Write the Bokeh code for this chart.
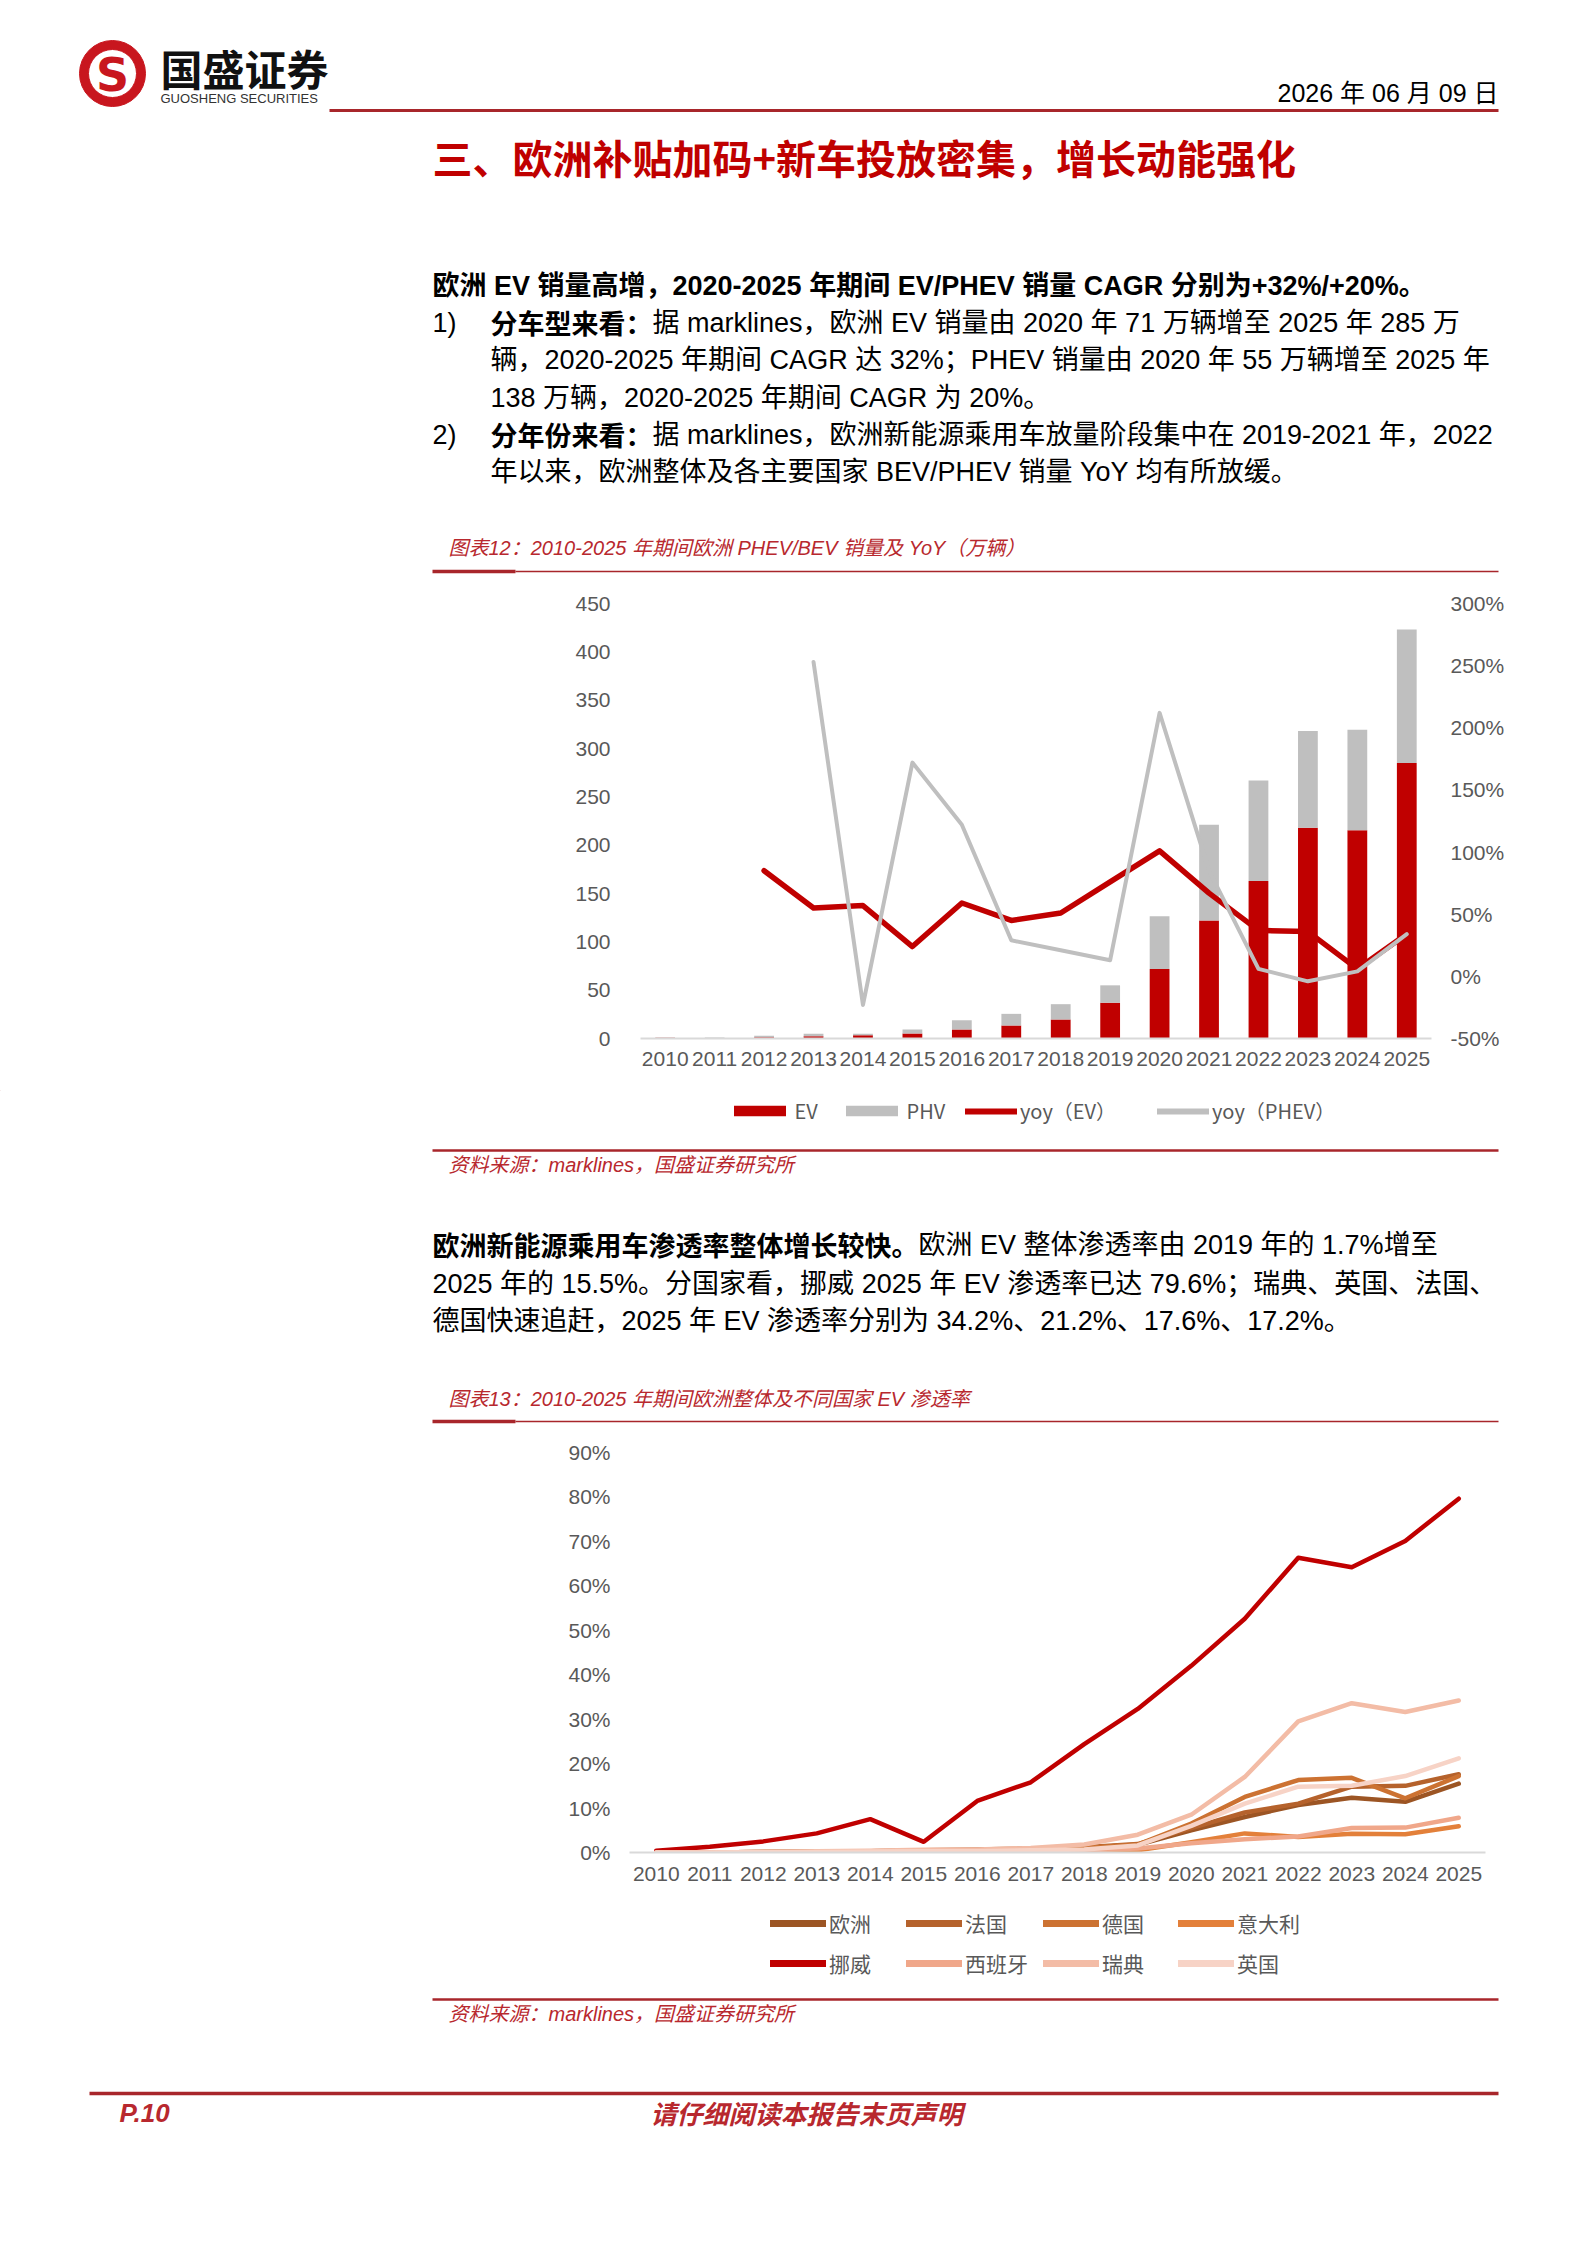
from bokeh.plotting import figure
from bokeh.models import (ColumnDataSource, FactorRange, Range1d, LinearAxis, FixedTicker,
                          PrintfTickFormatter, Legend, LegendItem)
from bokeh.layouts import column
from bokeh.embed import file_html
from bokeh.resources import INLINE
from bokeh.core.properties import value

# ---------------- chart data ----------------
years = [str(y) for y in range(2010, 2026)]

# Figure 12: sales (10k units)
ev_sales = [0.7, 0.5, 1.4, 2.4, 3.4, 5.2, 9.3, 13.4, 19.7, 37.0, 72.0, 122.0, 163.0, 218.0, 215.5, 285.0]
phv_sales = [0.3, 0.6, 1.4, 2.4, 1.4, 4.1, 9.7, 12.1, 15.8, 18.0, 54.5, 99.0, 104.0, 100.0, 104.0, 138.0]
ev_yoy_years = years[2:]
ev_yoy = [85, 55, 57, 24, 59, 45, 51, 76, 101, 67, 37, 36, 6, 34]
phev_yoy_years = years[3:]
phev_yoy = [253, -23, 172, 122, 29, 21, 13, 212, 85, 6, -4, 4, 34]
sales_ticks = [0, 50, 100, 150, 200, 250, 300, 350, 400, 450]
yoy_ticks = [-50, 0, 50, 100, 150, 200, 250, 300]
legend1_labels = ["EV", "PHV", "yoy（EV）", "yoy（PHEV）"]

# Figure 13: EV penetration (%)
pen_names = ["欧洲", "法国", "德国", "意大利", "挪威", "西班牙", "瑞典", "英国"]
pen_europe = [0.0, 0.0, 0.1, 0.2, 0.3, 0.4, 0.5, 0.8, 1.1, 1.7, 5.0, 8.0, 10.7, 12.3, 11.4, 15.5]
pen_france = [0.0, 0.0, 0.1, 0.2, 0.3, 0.5, 0.7, 0.9, 1.2, 1.9, 5.5, 9.0, 11.0, 14.8, 15.0, 17.6]
pen_germany = [0.0, 0.0, 0.1, 0.1, 0.2, 0.3, 0.3, 0.7, 1.0, 1.8, 6.5, 12.5, 16.3, 16.8, 12.2, 17.2]
pen_italy = [0.0, 0.0, 0.0, 0.0, 0.0, 0.0, 0.1, 0.1, 0.1, 0.5, 2.3, 4.3, 3.5, 4.2, 4.1, 5.9]
pen_norway = [0.4, 1.3, 2.5, 4.3, 7.5, 2.4, 11.6, 15.8, 24.4, 32.3, 42.0, 52.6, 66.3, 64.2, 70.1, 79.6]
pen_spain = [0.0, 0.0, 0.0, 0.0, 0.1, 0.1, 0.2, 0.3, 0.5, 0.9, 2.1, 3.0, 3.6, 5.5, 5.6, 7.8]
pen_sweden = [0.0, 0.0, 0.1, 0.3, 0.4, 0.6, 0.7, 1.0, 1.8, 4.0, 8.5, 17.0, 29.5, 33.6, 31.6, 34.2]
pen_uk = [0.0, 0.0, 0.1, 0.1, 0.2, 0.3, 0.3, 0.5, 0.7, 1.6, 6.0, 11.0, 14.8, 15.0, 17.2, 21.2]
pen_values = [pen_europe, pen_france, pen_germany, pen_italy, pen_norway, pen_spain, pen_sweden, pen_uk]
pen_ticks = [0, 10, 20, 30, 40, 50, 60, 70, 80, 90]

# ---------------- page texts ----------------
logo_cn = "国盛证券"
logo_en = "GUOSHENG SECURITIES"
date_text = "2026 年 06 月 09 日"
title_text = "三、欧洲补贴加码+新车投放密集，增长动能强化"
p1_lead = "欧洲 EV 销量高增，2020-2025 年期间 EV/PHEV 销量 CAGR 分别为+32%/+20%。"
p1_item1_head = "分车型来看："
p1_item1_lines = ["据 marklines，欧洲 EV 销量由 2020 年 71 万辆增至 2025 年 285 万",
                  "辆，2020-2025 年期间 CAGR 达 32%；PHEV 销量由 2020 年 55 万辆增至 2025 年",
                  "138 万辆，2020-2025 年期间 CAGR 为 20%。"]
p1_item2_head = "分年份来看："
p1_item2_lines = ["据 marklines，欧洲新能源乘用车放量阶段集中在 2019-2021 年，2022",
                  "年以来，欧洲整体及各主要国家 BEV/PHEV 销量 YoY 均有所放缓。"]
cap12 = "图表12：2010-2025 年期间欧洲 PHEV/BEV 销量及 YoY（万辆）"
source_text = "资料来源：marklines，国盛证券研究所"
p2_head = "欧洲新能源乘用车渗透率整体增长较快。"
p2_lines = ["欧洲 EV 整体渗透率由 2019 年的 1.7%增至",
            "2025 年的 15.5%。分国家看，挪威 2025 年 EV 渗透率已达 79.6%；瑞典、英国、法国、",
            "德国快速追赶，2025 年 EV 渗透率分别为 34.2%、21.2%、17.6%、17.2%。"]
cap13 = "图表13：2010-2025 年期间欧洲整体及不同国家 EV 渗透率"
footer_page = "P.10"
footer_note = "请仔细阅读本报告末页声明"

# ---------------- styles ----------------
W = 1580
BODY = "Liberation Sans, Noto Sans CJK SC"
CJK = "Noto Sans CJK SC"
AXF = "Liberation Sans"
C_EV = "#C00000"
C_PHV = "#BFBFBF"
C_TITLE = "#C00000"
C_RULE = "#A8262B"
C_CAP = "#B8282E"
C_LOGO = "#C8161E"
C_TICK = "#595959"
pen_colors = ["#9C5524", "#B5622C", "#CC7232", "#E3803A", "#C00000", "#F0A78A", "#F3BCA6", "#F7D3C6"]
OFF = -5000  # legend-only dummy marks live outside the visible range


def text_fig(y0, y1):
    p = figure(width=W, height=y1 - y0, x_range=Range1d(0, W), y_range=Range1d(y1, y0),
               output_backend="svg", toolbar_location=None, min_border=0, frame_align=False,
               x_axis_type=None, y_axis_type=None, outline_line_color=None)
    p.grid.visible = False
    return p


def put(p, x, y, txt, size, color="#000000", style="normal", align="left", font=BODY):
    p.text(x=[x], y=[y], text=[txt], text_font=value(font), text_font_size=f"{size}px",
           text_color=color, text_font_style=style, text_align=align, text_baseline="middle")


def rule(p, x0, x1, y, w, color=C_RULE):
    p.segment(x0=[x0], y0=[y], x1=[x1], y1=[y], line_color=color, line_width=w)


def add_leg(p, y_bottom, label, rend, px, py, gw, gh, size, font=CJK):
    h = 24
    leg = Legend(items=[LegendItem(label=label, renderers=[rend])],
                 location=(px, y_bottom - py - h / 2), orientation="horizontal",
                 glyph_width=gw, glyph_height=gh, padding=0, margin=0, spacing=0,
                 label_standoff=3, border_line_color=None, background_fill_alpha=0,
                 label_text_font_size=f"{size}px", label_text_color=C_TICK,
                 label_text_font=font, label_height=h)
    p.add_layout(leg)


def style_axis(ax, standoff):
    ax.major_tick_line_color = None
    ax.minor_tick_line_color = None
    ax.major_tick_out = 0
    ax.major_tick_in = 0
    ax.major_label_text_font = AXF
    ax.major_label_text_font_size = "21px"
    ax.major_label_text_color = C_TICK
    ax.major_label_standoff = standoff


# ---------- header + paragraph 1 ----------
pa = text_fig(0, 583)
pa.annulus(x=[112], y=[73], inner_radius=24, outer_radius=33, color=C_LOGO)
put(pa, 112, 74, "S", 46, C_LOGO, "bold", "center", "DejaVu Sans")
put(pa, 160, 67, logo_cn, 42, "#111111", "bold", "left", CJK)
put(pa, 160, 98, logo_en, 13, "#333333", "normal", "left", AXF)
rule(pa, 329, 1498, 110, 3)
put(pa, 1498, 92, date_text, 25, "#000000", "normal", "right")
put(pa, 432, 156, title_text, 40, C_TITLE, "bold", "left", CJK)
BS = 27
put(pa, 432, 285, p1_lead, BS, "#000000", "bold")
put(pa, 432, 322, "1)", BS)
put(pa, 490, 322, p1_item1_head, BS, "#000000", "bold", "left", CJK)
put(pa, 652, 322, p1_item1_lines[0], BS)
put(pa, 490, 359, p1_item1_lines[1], BS)
put(pa, 490, 397, p1_item1_lines[2], BS)
put(pa, 432, 434, "2)", BS)
put(pa, 490, 434, p1_item2_head, BS, "#000000", "bold", "left", CJK)
put(pa, 652, 434, p1_item2_lines[0], BS)
put(pa, 490, 471, p1_item2_lines[1], BS)
put(pa, 448, 547, cap12, 20, C_CAP, "italic")
rule(pa, 515, 1498, 571, 1.5)
rule(pa, 432, 515, 571, 3.5)

# ---------- chart 12 ----------
src1 = ColumnDataSource(dict(year=years, EV=ev_sales, PHV=phv_sales))
p1 = figure(width=W, height=507, x_range=FactorRange(*years), y_range=Range1d(0, 450),
            output_backend="svg", toolbar_location=None, outline_line_color=None, frame_align=False,
            min_border_left=640, min_border_right=W - 1431, min_border_top=20, min_border_bottom=52)
p1.extra_y_ranges = {"yoy": Range1d(-50, 300)}
bars = p1.vbar_stack(["EV", "PHV"], x="year", width=0.4, fill_color=[C_EV, C_PHV],
                     line_color=None, source=src1)
l_ev = p1.line(x=ev_yoy_years, y=ev_yoy, y_range_name="yoy", line_color=C_EV, line_width=5.5,
               line_join="round", line_cap="round")
l_ph = p1.line(x=phev_yoy_years, y=phev_yoy, y_range_name="yoy", line_color=C_PHV, line_width=4,
               line_join="round", line_cap="round")
p1.grid.visible = False
ax_r = LinearAxis(y_range_name="yoy", ticker=FixedTicker(ticks=yoy_ticks),
                  formatter=PrintfTickFormatter(format="%d%%"))
p1.add_layout(ax_r, "right")
p1.yaxis[0].ticker = FixedTicker(ticks=sales_ticks)
for ax in p1.yaxis:
    ax.axis_line_color = None
    style_axis(ax, 19)
p1.yaxis[0].major_label_standoff = 30
xa = p1.xaxis[0]
xa.axis_line_color = "#D9D9D9"
xa.axis_line_width = 2
style_axis(xa, 13)

# ---------- legend 12 + paragraph 2 ----------
pb = text_fig(1090, 1430)
lg_ev = pb.vbar(x=[OFF], top=[OFF], bottom=[OFF - 10], width=1, fill_color=C_EV, line_color=None)
lg_ph = pb.vbar(x=[OFF], top=[OFF], bottom=[OFF - 10], width=1, fill_color=C_PHV, line_color=None)
lg_lev = pb.line(x=[OFF, OFF - 10], y=[OFF, OFF], line_color=C_EV, line_width=6, line_cap="round")
lg_lph = pb.line(x=[OFF, OFF - 10], y=[OFF, OFF], line_color=C_PHV, line_width=6, line_cap="round")
add_leg(pb, 1430, legend1_labels[0], lg_ev, 726.5, 1113, 65, 13, 20)
add_leg(pb, 1430, legend1_labels[1], lg_ph, 838.5, 1113, 65, 13, 20)
add_leg(pb, 1430, legend1_labels[2], lg_lev, 965, 1113, 52, 24, 20)
add_leg(pb, 1430, legend1_labels[3], lg_lph, 1157, 1113, 52, 24, 20)
rule(pb, 432, 1498, 1150, 2.5)
put(pb, 448, 1164, source_text, 20, C_CAP, "italic")
put(pb, 432, 1244, p2_head, BS, "#000000", "bold", "left", CJK)
put(pb, 918, 1244, p2_lines[0], BS)
put(pb, 432, 1283, p2_lines[1], BS)
put(pb, 432, 1320, p2_lines[2], BS)
put(pb, 448, 1398, cap13, 20, C_CAP, "italic")
rule(pb, 515, 1498, 1421, 1.5)
rule(pb, 432, 515, 1421, 3.5)

# ---------- chart 13 ----------
p2 = figure(width=W, height=470, x_range=FactorRange(*years), y_range=Range1d(0, 90),
            output_backend="svg", toolbar_location=None, outline_line_color=None, frame_align=False,
            min_border_left=629, min_border_right=W - 1485, min_border_top=22, min_border_bottom=48)
p2.grid.visible = False
for name, vals, col in zip(pen_names, pen_values, pen_colors):
    p2.line(x=years, y=vals, line_color=col, line_width=4.5, line_join="round", line_cap="round")
ya = p2.yaxis[0]
ya.ticker = FixedTicker(ticks=pen_ticks)
ya.formatter = PrintfTickFormatter(format="%d%%")
ya.axis_line_color = None
style_axis(ya, 19)
xb = p2.xaxis[0]
xb.axis_line_color = "#D9D9D9"
xb.axis_line_width = 2
style_axis(xb, 14)

# ---------- legend 13 + footer ----------
pc = text_fig(1900, 2237)
cols = [770, 906, 1043, 1178]
rows = [1926, 1966]
for i, (name, col) in enumerate(zip(pen_names, pen_colors)):
    r = pc.line(x=[OFF, OFF - 10], y=[OFF, OFF], line_color=col, line_width=7, line_cap="round")
    add_leg(pc, 2237, name, r, cols[i % 4], rows[i // 4], 56, 24, 21)
rule(pc, 432, 1498, 1999, 2.5)
put(pc, 448, 2013, source_text, 20, C_CAP, "italic")
rule(pc, 89, 1498, 2093, 3.5)
put(pc, 119, 2112, footer_page, 26, C_CAP, "bold italic")
put(pc, 806, 2112, footer_note, 26, C_CAP, "bold italic", "center", CJK)

page = column(pa, p1, pb, p2, pc, spacing=0)
open("out.html", "w").write(file_html(page, INLINE))
